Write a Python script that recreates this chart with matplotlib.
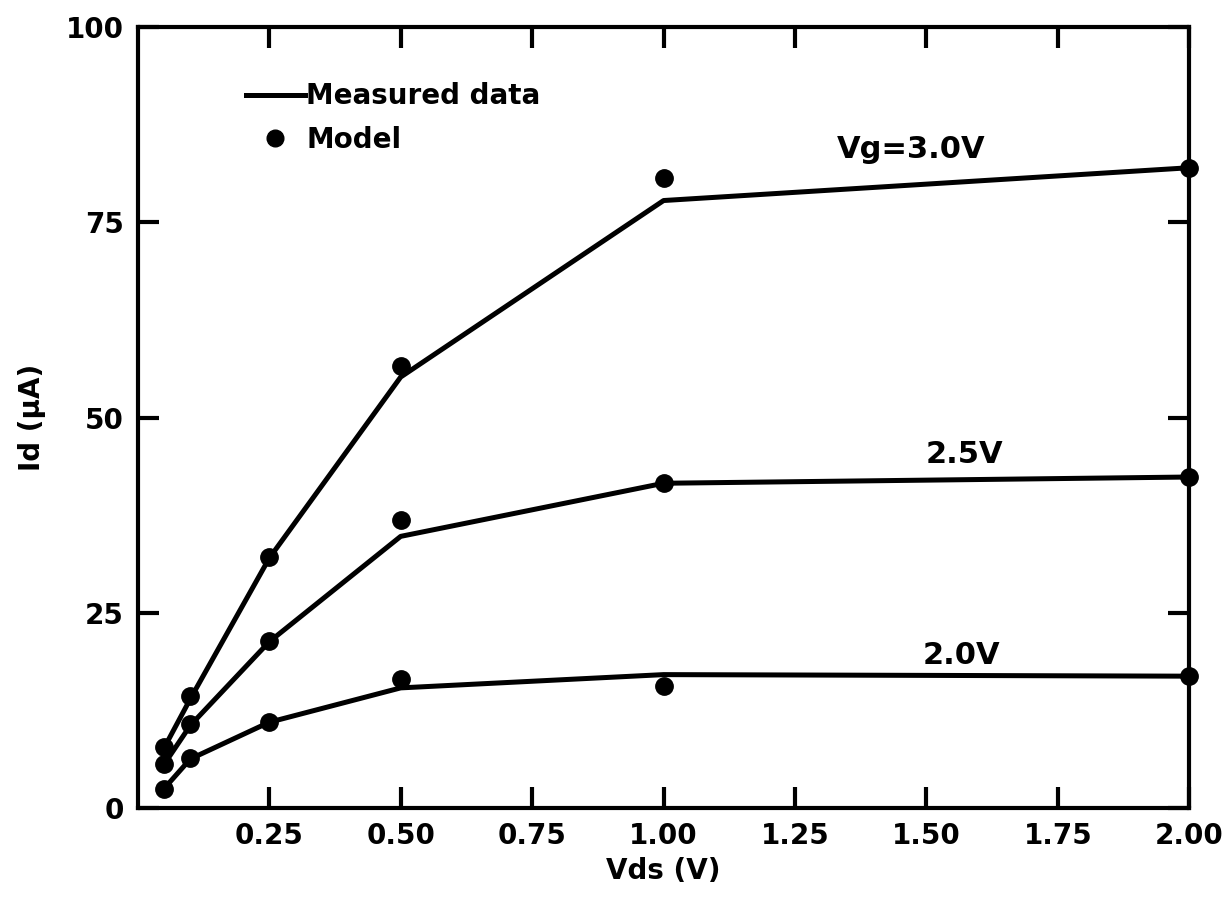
import matplotlib
matplotlib.use("Agg")
import matplotlib.pyplot as plt
from matplotlib.lines import Line2D

# drain voltage points (V)
vds = [0.05, 0.1, 0.25, 0.5, 1.0, 2.0]

# drain current (uA), measured lines and model dots per gate voltage
meas_30 = [7.7, 14.0, 32.0, 55.2, 77.8, 82.0]
model_30 = [7.8, 14.4, 32.1, 56.6, 80.7, 82.0]
meas_25 = [5.6, 10.6, 21.3, 34.8, 41.6, 42.4]
model_25 = [5.7, 10.8, 21.4, 36.9, 41.6, 42.4]
meas_20 = [2.5, 6.3, 11.0, 15.4, 17.1, 16.9]
model_20 = [2.5, 6.4, 11.0, 16.6, 15.6, 16.9]

curve_labels = ["Vg=3.0V", "2.5V", "2.0V"]
label_pos = [(1.47, 84.3), (1.572, 45.3), (1.566, 19.6)]

xticks = [0.25, 0.5, 0.75, 1.0, 1.25, 1.5, 1.75, 2.0]
xticklabels = ["0.25", "0.50", "0.75", "1.00", "1.25", "1.50", "1.75", "2.00"]
yticks = [0, 25, 50, 75, 100]

plt.rcParams['font.family'] = ['DejaVu Sans']
plt.rcParams['font.weight'] = 'bold'

fig = plt.figure(figsize=(12.3, 9.05), dpi=100)
ax = fig.add_axes([0.112, 0.107, 0.855, 0.863])

for meas, model in [(meas_30, model_30), (meas_25, model_25), (meas_20, model_20)]:
    ax.plot(vds, meas, color='black', lw=3.6, solid_joinstyle='round', clip_on=False)
    ax.plot(vds, model, 'o', color='black', ms=12.5, clip_on=False, zorder=5)

for lab, (x, y) in zip(curve_labels, label_pos):
    ax.text(x, y, lab, ha='center', va='center', fontsize=22, fontweight='bold')

ax.set_xlim(0, 2.0)
ax.set_ylim(0, 100)
ax.set_xticks(xticks)
ax.set_xticklabels(xticklabels)
ax.set_yticks(yticks)

ax.tick_params(direction='in', length=15, width=3, top=True, right=True,
               labelsize=20, pad=10)
for s in ax.spines.values():
    s.set_linewidth(3)

ax.set_xlabel("Vds (V)", fontsize=20, fontweight='bold', labelpad=5)
ax.set_ylabel("Id (\u03bcA)", fontsize=20, fontweight='bold', labelpad=14)

handles = [Line2D([], [], color='black', lw=3.6),
           Line2D([], [], ls='none', marker='o', color='black', ms=12)]
ax.legend(handles, ["Measured data", "Model"], loc='upper left',
          bbox_to_anchor=(0.09, 0.947), frameon=False,
          handlelength=2.1, handletextpad=0.05, borderpad=0, labelspacing=0.55,
          prop={'weight': 'bold', 'size': 20})

fig.savefig("out.png", dpi=100)
